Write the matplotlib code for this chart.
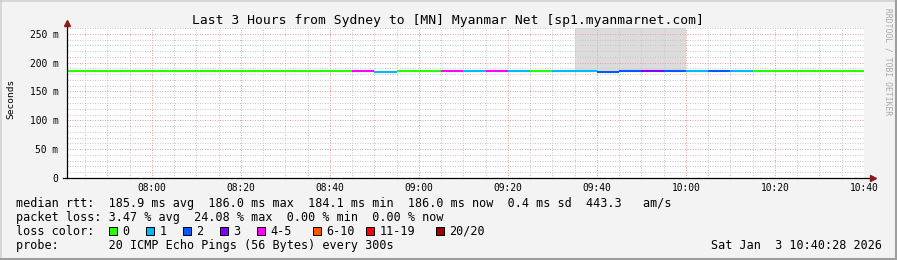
import matplotlib
matplotlib.use('Agg')
import matplotlib.pyplot as plt
from matplotlib.patches import Rectangle
from matplotlib.lines import Line2D

# data
title = 'Last 3 Hours from Sydney to [MN] Myanmar Net [sp1.myanmarnet.com]'
seg_start = ['07:40', '08:45', '08:50', '08:55', '09:05', '09:10', '09:15', '09:20',
             '09:25', '09:30', '09:35', '09:40', '09:45', '09:50', '09:55', '10:00',
             '10:05', '10:10', '10:15']
seg_end = seg_start[1:] + ['10:40']
median_ms = [186.0, 186.0, 184.6, 186.0, 186.0, 186.0, 186.0, 186.0,
             186.0, 185.3, 186.0, 184.1, 185.8, 186.0, 186.0, 186.0,
             185.9, 186.0, 186.0]
loss_idx = [0, 4, 1, 0, 4, 1, 4, 1, 0, 1, 1, 2, 2, 3, 2, 1, 2, 1, 0]
smoke_span = ['09:35', '10:00']
smoke_top = 260

loss_labels = ['0', '1', '2', '3', '4-5', '6-10', '11-19', '20/20']
loss_colors = ['#26ff00', '#00b8ff', '#0059ff', '#7e00ff', '#ff00ff', '#ff5500', '#ff0000', '#a10000']

xtick_labels = ['08:00', '08:20', '08:40', '09:00', '09:20', '09:40', '10:00', '10:20', '10:40']
ytick_vals = [0, 50, 100, 150, 200, 250]
ytick_labels = ['0', '50 m', '100 m', '150 m', '200 m', '250 m']

stats_line = 'median rtt:  185.9 ms avg  186.0 ms max  184.1 ms min  186.0 ms now  0.4 ms sd  443.3   am/s'
loss_line = 'packet loss: 3.47 % avg  24.08 % max  0.00 % min  0.00 % now'
probe_line = 'probe:       20 ICMP Echo Pings (56 Bytes) every 300s'
stamp = 'Sat Jan  3 10:40:28 2026'

W, H = 897, 260
MONO = 'DejaVu Sans Mono'


def fx(x):
    return x / W


def fy(y):
    return 1 - y / H


def to_min(s):
    h, m = s.split(':')
    return int(h) * 60 + int(m)


fig = plt.figure(figsize=(W / 100, H / 100), dpi=100, facecolor='#f3f3f3')
ax = fig.add_axes([fx(67), fy(178), 797 / W, 150 / H])
ax.set_facecolor('white')
ax.set_xlim(460.9, 640.0)
ax.set_ylim(0, 260)

# smoke area
ax.fill_between([to_min(smoke_span[0]), to_min(smoke_span[1])],
                [186.0, 186.0], [smoke_top, smoke_top], color='#dcdcdc', lw=0, zorder=1)

# median line coloured by loss
xs = [to_min(s) for s in seg_start]
xe = [to_min(s) for s in seg_end]
ax.hlines(median_ms, xs, xe, colors=[loss_colors[i] for i in loss_idx], linewidth=1.5, zorder=3)

# grid
ax.set_xticks([to_min(t) for t in xtick_labels])
ax.set_xticklabels(xtick_labels)
ax.set_xticks(range(465, 641, 5), minor=True)
ax.set_yticks(ytick_vals)
ax.set_yticklabels(ytick_labels)
ax.set_yticks(range(10, 261, 10), minor=True)
ax.set_axisbelow('line')
ax.grid(which='major', color='#eba0a0', linestyle=(0, (1, 1.5)), linewidth=0.72)
ax.grid(which='minor', color='#c8c8c8', linestyle=(0, (1, 1.5)), linewidth=0.72)
ax.tick_params(which='both', length=0)
ax.tick_params(axis='x', pad=3.5, labelsize=6.9)
ax.tick_params(axis='y', pad=6.2, labelsize=6.9)
for lab in ax.get_xticklabels() + ax.get_yticklabels():
    lab.set_family(MONO)
for sp in ax.spines.values():
    sp.set_visible(False)

# axes with arrows
ax.plot([-4 / 797, 805 / 797], [0, 0], transform=ax.transAxes, color='black', lw=0.9, clip_on=False, zorder=5)
ax.plot([0, 0], [0, 1.025], transform=ax.transAxes, color='black', lw=0.9, clip_on=False, zorder=5)
ax.plot([1.0115], [0], marker='>', ms=5, color='#8b1a1a', transform=ax.transAxes, clip_on=False, zorder=6)
ax.plot([0], [1.032], marker='^', ms=5, color='#8b1a1a', transform=ax.transAxes, clip_on=False, zorder=6)

# texts
fig.text(fx(448), fy(24), title, ha='center', va='baseline', fontsize=9.4, family=MONO)
fig.text(fx(11), fy(99), 'Seconds', rotation=90, ha='center', va='center', fontsize=6.8, family=MONO)
fig.text(fx(888), fy(62), 'RRDTOOL / TOBI OETIKER', rotation=270, ha='center', va='center',
         fontsize=5.8, family=MONO, color='#a8a8a8')

fig.text(fx(16), fy(207.5), stats_line, ha='left', va='baseline', fontsize=8.5, family=MONO)
fig.text(fx(16), fy(221.5), loss_line, ha='left', va='baseline', fontsize=8.5, family=MONO)
fig.text(fx(16), fy(235), 'loss color:', ha='left', va='baseline', fontsize=8.5, family=MONO)
fig.text(fx(16), fy(249), probe_line, ha='left', va='baseline', fontsize=8.5, family=MONO)
fig.text(fx(882), fy(249), stamp, ha='right', va='baseline', fontsize=8.5, family=MONO)

box_x = [109, 146, 183, 219.5, 256.5, 313, 366, 436]
for bx, lab, col in zip(box_x, loss_labels, loss_colors):
    fig.patches.append(Rectangle((fx(bx), fy(234.5)), 8 / W, 8 / H, transform=fig.transFigure,
                                 facecolor=col, edgecolor='black', lw=0.7))
    fig.text(fx(bx + 13.5), fy(235), lab, ha='left', va='baseline', fontsize=8.5, family=MONO)

# frame shading
fig.add_artist(Line2D([0, 1], [fy(0.75), fy(0.75)], color='#cfcfcf', lw=1.1))
fig.add_artist(Line2D([fx(0.75), fx(0.75)], [0, 1], color='#cfcfcf', lw=1.1))
fig.add_artist(Line2D([0, 1], [fy(258.5), fy(258.5)], color='#9e9e9e', lw=2.2))
fig.add_artist(Line2D([fx(895.5), fx(895.5)], [0, 1], color='#9e9e9e', lw=2.2))

fig.savefig('out.png', dpi=100, facecolor=fig.get_facecolor())
